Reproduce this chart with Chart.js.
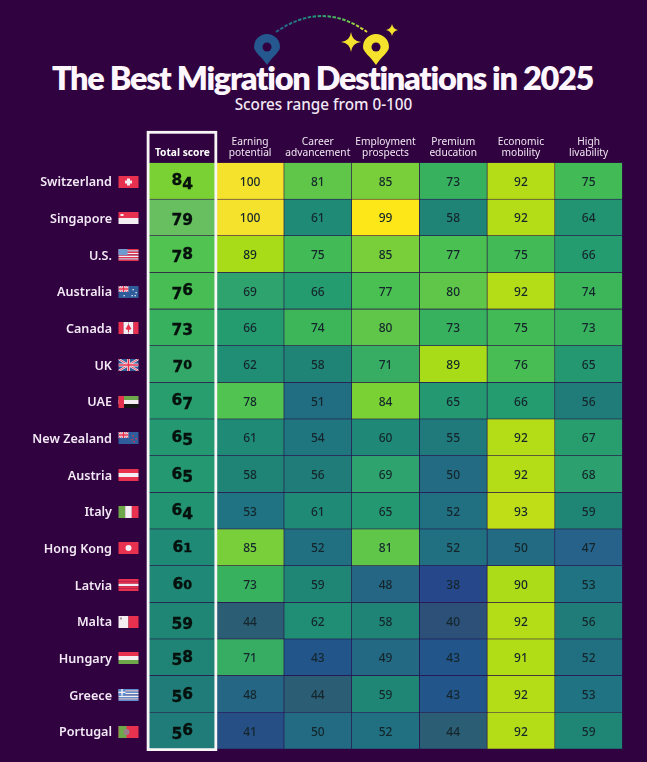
<!DOCTYPE html>
<html><head><meta charset="utf-8">
<script src="https://cdn.jsdelivr.net/npm/chart.js@4"></script>
<style>
html,body{margin:0;padding:0;background:#30023f;width:647px;height:762px;overflow:hidden}
#wrap{position:relative;width:647px;height:762px}
canvas{position:absolute;left:0;top:0}
h1,h2{position:absolute;left:0;width:647px;margin:0;text-align:center;color:#fdf7fd;white-space:nowrap}
h1{left:-1px;top:58px;font:800 32.5px/40px "Lato",sans-serif;letter-spacing:-1.3px}
h2{top:93px;font:500 15.3px/22px "Noto Sans",sans-serif;color:#f2e8f5}
svg{position:absolute;left:0;top:0}
.tot{position:absolute;transform:translate(-50%,-50%);font:700 15.5px/20px "DejaVu Sans",sans-serif;color:#06100c;white-space:nowrap;-webkit-text-stroke:.35px #06100c}
.tot span{position:relative;display:inline-block}
</style></head><body>
<div id="wrap">
<svg width="647" height="80" viewBox="0 0 647 80">
<defs><linearGradient id="g" x1="276" x2="367" y1="0" y2="0" gradientUnits="userSpaceOnUse">
<stop offset="0" stop-color="#27608a"/><stop offset=".45" stop-color="#1f9a78"/><stop offset=".8" stop-color="#6cc94a"/><stop offset="1" stop-color="#e8df30"/></linearGradient></defs>
<path d="M276 32 Q322 0 367 32" fill="none" stroke="url(#g)" stroke-width="2" stroke-dasharray="3.5 1.5"/>
<path d="M267 65 C262 57 254 52 254 47 A13 13 0 1 1 280 47 C280 52 272 57 267 65Z" fill="#25588f"/><circle cx="267" cy="47" r="4.5" fill="#30023f"/>
<path d="M376 65 C371 57 363 52 363 47 A13 13 0 1 1 389 47 C389 52 381 57 376 65Z" fill="#f5e22c"/><circle cx="376" cy="47" r="4.5" fill="#30023f"/>
<path d="M351 32 Q352 41 361 42 Q352 43 351 52 Q350 43 341 42 Q350 41 351 32Z" fill="#f5e22c"/>
<path d="M392 24 Q393 29 398 30 Q393 31 392 36 Q391 31 386 30 Q391 29 392 24Z" fill="#f5e22c"/>
</svg>
<h1>The Best Migration Destinations in 2025</h1>
<h2>Scores range from 0-100</h2>
<canvas id="c" width="647" height="762"></canvas>
</div>
<script>
const countries=["Switzerland","Singapore","U.S.","Australia","Canada","UK","UAE","New Zealand","Austria","Italy","Hong Kong","Latvia","Malta","Hungary","Greece","Portugal"];
const headers=["Total score",["Earning","potential"],["Career","advancement"],["Employment","prospects"],["Premium","education"],["Economic","mobility"],["High","livability"]];
const totalScore=[84,79,78,76,73,70,67,65,65,64,61,60,59,58,56,56];
const earning=[100,100,89,69,66,62,78,61,58,53,85,73,44,71,48,41];
const career=[81,61,75,66,74,58,51,54,56,61,52,59,62,43,44,50];
const employment=[85,99,85,77,80,71,84,60,69,65,81,48,58,49,59,52];
const education=[73,58,77,80,73,89,65,55,50,52,52,38,40,43,43,44];
const mobility=[92,92,75,92,75,76,66,92,92,93,50,90,92,91,92,92];
const livability=[75,64,66,74,73,65,56,67,68,59,47,53,56,52,53,59];
const columns=[totalScore,earning,career,employment,education,mobility,livability];

const scaleStops=[[38,"#26488a"],[40,"#2c5078"],[41,"#264f85"],[43,"#22558a"],[44,"#2b5d74"],[47,"#26628a"],[48,"#256684"],[50,"#226b82"],[53,"#1f7382"],[56,"#207c78"],[58,"#1f8475"],[61,"#1f8a76"],[64,"#229472"],[66,"#259b70"],[69,"#2fa36d"],[71,"#37ad63"],[73,"#38b15f"],[75,"#42ba55"],[78,"#50c350"],[79,"#68bf60"],[80,"#5fc64a"],[81,"#5fc64a"],[84,"#7ad133"],[85,"#78cf3a"],[89,"#a8dc18"],[92,"#b5dd17"],[99,"#fde719"],[100,"#f5e22c"]];
function hex(h){return [1,3,5].map(i=>parseInt(h.substr(i,2),16));}
function colour(v){
  for(let i=0;i<scaleStops.length-1;i++){
    const a=scaleStops[i],b=scaleStops[i+1];
    if(v>=a[0]&&v<=b[0]){const t=(v-a[0])/(b[0]-a[0]),A=hex(a[1]),B=hex(b[1]);
      return "rgb("+A.map((c,k)=>Math.round(c+(B[k]-c)*t)).join(",")+")";}
  }
  return scaleStops[0][1];
}
const R="#e8304f",W="#f4eef2",B="#2f5d9c",G="#6fa84a",K="#151515";
function stripes(c,x,y,w,h,cols,vert){cols.forEach((k,i)=>{c.fillStyle=k;
  if(vert)c.fillRect(x+w*i/cols.length,y,w/cols.length,h);else c.fillRect(x,y+h*i/cols.length,w,h/cols.length);});}
function ukMini(c,x,y,w,h){
  c.save();c.beginPath();c.rect(x,y,w,h);c.clip();
  c.strokeStyle=W;c.lineWidth=2.2;c.beginPath();c.moveTo(x,y);c.lineTo(x+w,y+h);c.moveTo(x+w,y);c.lineTo(x,y+h);c.stroke();
  c.strokeStyle=R;c.lineWidth=.9;c.stroke();
  c.lineWidth=3;c.strokeStyle=W;c.beginPath();c.moveTo(x+w/2,y);c.lineTo(x+w/2,y+h);c.moveTo(x,y+h/2);c.lineTo(x+w,y+h/2);c.stroke();
  c.lineWidth=1.6;c.strokeStyle=R;c.stroke();c.restore();
}
const flags={
 "Switzerland":(c,x,y,w,h)=>{c.fillStyle=R;c.fillRect(x,y,w,h);c.fillStyle=W;c.fillRect(x+8.5,y+2.5,3,7);c.fillRect(x+6.5,y+4.5,7,3);},
 "Singapore":(c,x,y,w,h)=>{stripes(c,x,y,w,h,[R,W]);c.fillStyle=W;c.fillRect(x+2,y+2,3,2);},
 "U.S.":(c,x,y,w,h)=>{stripes(c,x,y,w,h,[R,W,R,W,R,W,R,W,R]);c.fillStyle="#6f9ad0";c.fillRect(x,y,9,6);},
 "Australia":(c,x,y,w,h)=>{c.fillStyle=B;c.fillRect(x,y,w,h);ukMini(c,x,y,10,6);c.fillStyle=W;[[14,3],[17,6],[13,9],[5,9],[16,9]].forEach(p=>c.fillRect(x+p[0],y+p[1],1.3,1.3));},
 "Canada":(c,x,y,w,h)=>{stripes(c,x,y,w,h,[R,W,W,R],true);c.fillStyle=R;c.beginPath();c.moveTo(x+10,y+2);c.lineTo(x+13,y+7);c.lineTo(x+10.5,y+8);c.lineTo(x+10.5,y+10);c.lineTo(x+9.5,y+10);c.lineTo(x+9.5,y+8);c.lineTo(x+7,y+7);c.closePath();c.fill();},
 "UK":(c,x,y,w,h)=>{c.fillStyle=B;c.fillRect(x,y,w,h);ukMini(c,x,y,w,h);},
 "UAE":(c,x,y,w,h)=>{stripes(c,x,y,w,h,[G,W,K]);c.fillStyle=R;c.fillRect(x,y,5.5,h);},
 "New Zealand":(c,x,y,w,h)=>{c.fillStyle=B;c.fillRect(x,y,w,h);ukMini(c,x,y,10,6);c.fillStyle=R;[[14,3],[17,6],[13,7],[15,9]].forEach(p=>c.fillRect(x+p[0],y+p[1],1.4,1.4));},
 "Austria":(c,x,y,w,h)=>stripes(c,x,y,w,h,[R,W,R]),
 "Italy":(c,x,y,w,h)=>stripes(c,x,y,w,h,[G,W,R],true),
 "Hong Kong":(c,x,y,w,h)=>{c.fillStyle=R;c.fillRect(x,y,w,h);c.fillStyle=W;c.beginPath();c.arc(x+10,y+6,3,0,7);c.fill();},
 "Latvia":(c,x,y,w,h)=>stripes(c,x,y,w,h,[R,R,W,R,R]),
 "Malta":(c,x,y,w,h)=>{stripes(c,x,y,w,h,[W,R],true);c.fillStyle="#a78ba0";c.fillRect(x+1.5,y+1.5,2,2);},
 "Hungary":(c,x,y,w,h)=>stripes(c,x,y,w,h,[R,W,G]),
 "Greece":(c,x,y,w,h)=>{stripes(c,x,y,w,h,["#5f8fd0",W,"#5f8fd0",W,"#5f8fd0",W,"#5f8fd0",W,"#5f8fd0"]);c.fillStyle="#5f8fd0";c.fillRect(x,y,7,6.7);c.fillStyle=W;c.fillRect(x+2.8,y,1.4,6.7);c.fillRect(x,y+2.7,7,1.3);},
 "Portugal":(c,x,y,w,h)=>{c.fillStyle=R;c.fillRect(x,y,w,h);c.fillStyle=G;c.fillRect(x,y,8,h);c.fillStyle="#9a7f8a";c.beginPath();c.arc(x+8,y+6,3,0,7);c.fill();}
};
const digitShift={"0":[.82,-1],"1":[.82,-1],"2":[.82,-1],"3":[1,2.5],"4":[1,2.5],"5":[1,2.5],"6":[1,-1],"7":[1,2.5],"8":[1,-1],"9":[1,2.5]};
const heatPlugin={id:"heat",
 afterDatasetsDraw(ch){
  const c=ch.ctx,xs=ch.scales.x,ys=ch.scales.y,a=ch.chartArea;
  c.save();
  c.font='500 12px "Noto Sans",sans-serif';c.fillStyle="#14262c";c.textAlign="center";c.textBaseline="middle";
  ch.data.datasets.forEach((d,di)=>{ if(di===0)return;
    ch.getDatasetMeta(di).data.forEach((el,i)=>{const p=el.getCenterPoint();c.fillText(String(d.data[i].v),p.x,p.y+1.5);});
  });
  const l=xs.getPixelForValue(0),r=xs.getPixelForValue(1);
  c.strokeStyle="#f7f5f5";c.lineWidth=2.8;
  c.strokeRect(l-.4,a.top-30.2,r-l,a.bottom-a.top+0.8+30);
  countries.forEach((n,i)=>{const cy=ys.getPixelForValue(i);c.save();flags[n](c,118.5,Math.round(cy)-5,20,12);c.restore();});
  c.restore();
 },
 afterRender(ch){
  if(ch.$tot)return;ch.$tot=true;
  const w=document.getElementById("wrap");
  ch.getDatasetMeta(0).data.forEach((el,i)=>{
    const p=el.getCenterPoint(),s=document.createElement("div");
    s.className="tot";s.style.left=p.x+"px";s.style.top=(p.y+.5)+"px";
    String(ch.data.datasets[0].data[i].v).split("").forEach(d=>{
      const g=document.createElement("span"),m=digitShift[d];
      g.textContent=d;g.style.fontSize=(15.5*m[0])+"px";g.style.top=m[1]+"px";s.appendChild(g);
    });
    w.appendChild(s);
  });
 }
};
new Chart(document.getElementById("c"),{
 type:"bar",
 data:{labels:countries,datasets:columns.map((arr,k)=>({
   label:k===0?headers[0]:headers[k].join(" "),
   data:arr.map((v,i)=>({y:countries[i],x:[k,k+1],v:v})),
   backgroundColor:ctx=>colour(arr[ctx.dataIndex]),
   borderColor:"#2a0a4a",borderWidth:.6,borderSkipped:false,
   barPercentage:1,categoryPercentage:1,grouped:false
 }))},
 plugins:[heatPlugin],
 options:{
  indexAxis:"y",responsive:false,animation:false,devicePixelRatio:1,
  layout:{padding:{top:0,right:24.5,bottom:13,left:0}},
  plugins:{legend:{display:false},tooltip:{enabled:false},title:{display:false}},
  scales:{
   x:{type:"linear",position:"top",min:0,max:7,grid:{display:false,drawTicks:false,tickLength:0},border:{display:false},
      afterBuildTicks(s){s.ticks=headers.map((h,i)=>({value:i+.5}));},
      afterFit(s){s.height=162.5;},
      ticks:{autoSkip:false,maxRotation:0,minRotation:0,padding:4,
        color:c=>c.index===0?"#ffffff":"#f0e6f2",
        font:c=>({family:'"Noto Sans",sans-serif',size:10.2,weight:c.index===0?"700":"400",lineHeight:1.05}),
        callback:(v,i)=>headers[i]}},
   y:{type:"category",grid:{display:false,drawTicks:false,tickLength:0},border:{display:false},
      afterFit(s){s.width=148.5;s.paddingTop=0;s.paddingBottom=0;},
      ticks:{autoSkip:false,padding:36.5,labelOffset:2,color:"#f3e9f6",crossAlign:"near",
        font:{family:'"Noto Sans",sans-serif',size:12.6,weight:"600"}}}
  }
 }
});
</script>
</body></html>
